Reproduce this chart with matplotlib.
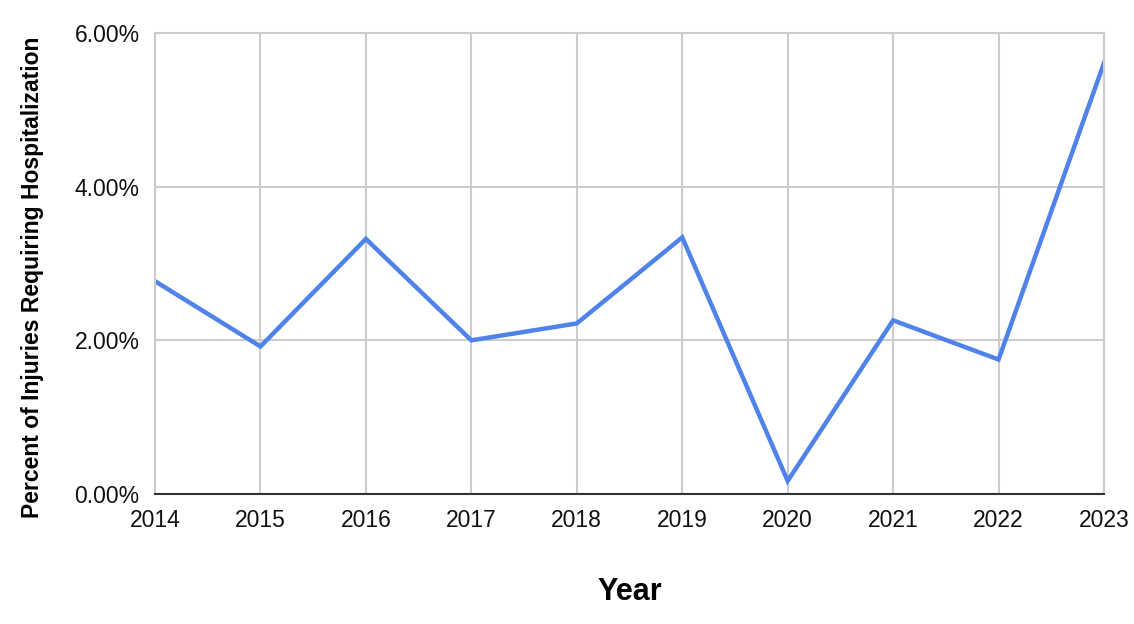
import matplotlib
matplotlib.use("Agg")
import matplotlib.pyplot as plt
from matplotlib.ticker import FuncFormatter

# data
years = [2014, 2015, 2016, 2017, 2018, 2019, 2020, 2021, 2022, 2023]
pct_hospitalized = [2.77, 1.92, 3.32, 2.00, 2.22, 3.34, 0.17, 2.26, 1.75, 5.61]
y_ticks = [0, 2, 4, 6]

plt.rcParams['font.family'] = ['Liberation Sans', 'DejaVu Sans']

fig = plt.figure(figsize=(11.34, 6.24), dpi=100)
ax = fig.add_axes([155 / 1134, 1 - 494 / 624, (1104 - 155) / 1134, (494 - 33) / 624])

ax.plot(years, pct_hospitalized, color='#4f83ea', linewidth=3.2, solid_joinstyle='miter')

ax.set_xlim(years[0], years[-1])
ax.set_ylim(0, 6)
ax.set_xticks(years)
ax.set_yticks(y_ticks)
ax.yaxis.set_major_formatter(FuncFormatter(lambda v, p: '%.2f%%' % v))

ax.grid(True, color='#cccccc', linewidth=1.5)
ax.set_axisbelow(True)
for s in ['top', 'right', 'left']:
    ax.spines[s].set_color('#cccccc')
    ax.spines[s].set_linewidth(1.5)
ax.spines['bottom'].set_color('#333333')
ax.spines['bottom'].set_linewidth(1.5)
ax.tick_params(length=0, labelsize=16.5, colors='#111111')
ax.tick_params(axis='x', pad=11)
ax.tick_params(axis='y', pad=11)

ax.set_xlabel('Year', fontsize=22, fontweight='bold', labelpad=32)
ax.set_ylabel('Percent of Injuries Requiring Hospitalization', fontsize=16.5,
              fontweight='bold')
ax.yaxis.set_label_coords(-0.117, 0.469)

fig.savefig('out.png', dpi=100)
